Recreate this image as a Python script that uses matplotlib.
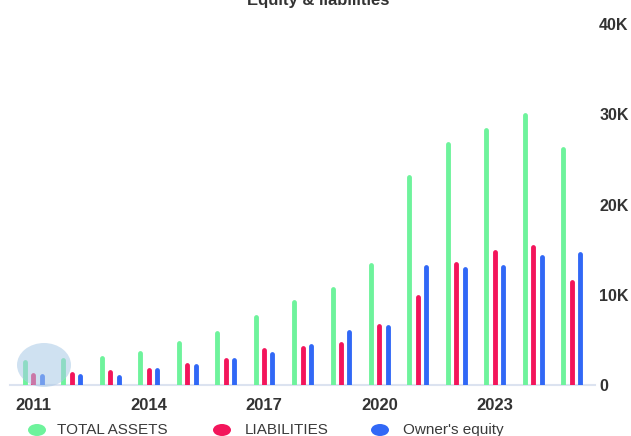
import matplotlib

matplotlib.use("Agg")
import matplotlib.pyplot as plt
from matplotlib.patches import Ellipse
import numpy as np

plt.rcParams["font.family"] = ["Liberation Sans", "DejaVu Sans"]

YEARS = list(range(2011, 2026))
TOTAL_ASSETS = [2.6, 2.8, 3.0, 3.6, 4.7, 5.8, 7.5, 9.2, 10.6, 13.3, 23.1, 26.7, 28.2, 29.9, 26.1]
LIABILITIES = [1.1, 1.2, 1.4, 1.7, 2.2, 2.8, 3.9, 4.1, 4.5, 6.5, 9.7, 13.4, 14.7, 15.3, 11.4]
OWNERS_EQUITY = [1.0, 1.0, 0.9, 1.7, 2.1, 2.8, 3.4, 4.3, 5.9, 6.4, 13.1, 12.9, 13.1, 14.2, 14.5]
YTICKS = [0, 10000, 20000, 30000, 40000]
YTICK_LABELS = ["0", "10K", "20K", "30K", "40K"]
XTICK_YEARS = [2011, 2014, 2017, 2020, 2023]

GREEN, RED, BLUE = "#6ef39c", "#f3155b", "#3168f6"
TEXT = "#333333"

W, H = 631, 436
fig = plt.figure(figsize=(W / 100, H / 100), dpi=100)
ax = fig.add_axes([10 / W, 51 / H, 585 / W, 361 / H])

x = np.arange(len(YEARS))
off = 0.22
for vals, dx, col in [(TOTAL_ASSETS, -off, GREEN), (LIABILITIES, 0, RED), (OWNERS_EQUITY, off, BLUE)]:
    v = np.array(vals) * 1000
    ax.vlines(x + dx, 0, v, colors=col, linewidth=3.5, capstyle="round", zorder=3)

ax.set_xlim(-0.6, 14.6)
ax.set_ylim(0, 40000)
ax.set_xticks([YEARS.index(y) for y in XTICK_YEARS])
ax.set_xticklabels([str(y) for y in XTICK_YEARS], fontsize=12, fontweight="bold", color=TEXT)
ax.set_yticks(YTICKS)
ax.set_yticklabels(YTICK_LABELS, fontsize=11.5, fontweight="bold", color=TEXT)
ax.yaxis.tick_right()
ax.tick_params(axis="both", length=0)
ax.tick_params(axis="x", pad=9)
ax.tick_params(axis="y", pad=3)
for s in ["top", "left", "right"]:
    ax.spines[s].set_visible(False)
ax.spines["bottom"].set_color("#dce3f0")
ax.spines["bottom"].set_linewidth(1.5)

# title sits partly above the top edge, as in the source
fig.text(318.5 / W, 1 - 5 / H, "Equity & liabilities", ha="center", va="baseline",
         fontsize=12, fontweight="bold", color=TEXT)

# faint watermark logo bottom left
fig.patches.append(Ellipse((44 / W, 1 - 365 / H), 54 / W, 44 / H, transform=fig.transFigure,
                           facecolor="#a9c9e6", alpha=0.55, edgecolor="none", zorder=5))

# legend
for cx, tx, label, col in [(37, 57, "TOTAL ASSETS", GREEN), (222, 245, "LIABILITIES", RED),
                            (380, 403, "Owner's equity", BLUE)]:
    fig.patches.append(Ellipse((cx / W, 1 - 430 / H), 18 / W, 12 / H, transform=fig.transFigure,
                               facecolor=col, edgecolor="none"))
    fig.text(tx / W, 1 - 430 / H, label, ha="left", va="center", fontsize=11, color="#3a3a3a")

fig.savefig("out.png", dpi=100)
